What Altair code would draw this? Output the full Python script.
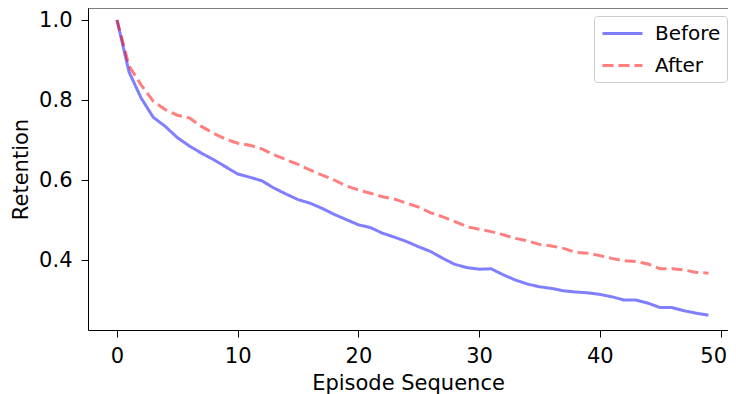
import altair as alt
import pandas as pd

episodes = list(range(50))
before = [1.0, 0.87, 0.805, 0.757, 0.734, 0.706, 0.685, 0.667, 0.651, 0.633,
          0.615, 0.607, 0.598, 0.58, 0.565, 0.551, 0.542, 0.529, 0.514, 0.501,
          0.488, 0.481, 0.467, 0.457, 0.446, 0.433, 0.421, 0.404, 0.389, 0.381,
          0.377, 0.378, 0.363, 0.35, 0.34, 0.333, 0.329, 0.323, 0.32, 0.318,
          0.314, 0.308, 0.3, 0.3, 0.292, 0.281, 0.281, 0.273, 0.267, 0.262]
after = [1.0, 0.885, 0.838, 0.797, 0.776, 0.762, 0.755, 0.734, 0.717, 0.702,
         0.692, 0.687, 0.678, 0.663, 0.651, 0.639, 0.625, 0.612, 0.6, 0.585,
         0.575, 0.567, 0.558, 0.552, 0.542, 0.532, 0.518, 0.508, 0.496, 0.483,
         0.477, 0.471, 0.463, 0.454, 0.448, 0.439, 0.435, 0.429, 0.419, 0.417,
         0.411, 0.404, 0.398, 0.396, 0.39, 0.378, 0.378, 0.375, 0.369, 0.367]
series_names = ["Before", "After"]

rows = []
for name, vals in zip(series_names, [before, after]):
    for e, v in zip(episodes, vals):
        rows.append({"episode": e, "retention": v, "series": name})
df = pd.DataFrame(rows)

FONT = "DejaVu Sans"

legend = alt.Legend(
    title=None, orient="none", legendX=506, legendY=8,
    symbolType="M-2,0H2", symbolSize=400, symbolStrokeWidth=3, symbolOffset=11,
    labelFontSize=20, labelFont=FONT, labelColor="black", labelOffset=21,
    padding=6, rowPadding=10,
    strokeColor="#cccccc", fillColor="white", cornerRadius=3,
)

x_enc = alt.X("episode:Q", title="Episode Sequence",
              scale=alt.Scale(domain=[-2.40, 50.62], nice=False, zero=False),
              axis=alt.Axis(values=[0, 10, 20, 30, 40, 50], grid=False, format="d",
                            tickSize=7, tickColor="black", domainColor="black",
                            labelFontSize=21, labelFont=FONT, labelColor="black", labelPadding=8,
                            labelFlush=10, labelFlushOffset=6,
                            titleFontSize=21, titleFont=FONT, titleColor="black",
                            titleFontWeight="normal", titlePadding=6))
y_enc = alt.Y("retention:Q", title="Retention",
              scale=alt.Scale(domain=[0.225, 1.03], nice=False, zero=False),
              axis=alt.Axis(values=[0.4, 0.6, 0.8, 1.0], grid=False, format=".1f",
                            tickSize=7, tickColor="black", domainColor="black",
                            labelFontSize=21, labelFont=FONT, labelColor="black", labelPadding=9,
                            titleFontSize=21, titleFont=FONT, titleColor="black",
                            titleFontWeight="normal", titlePadding=7))

lines = alt.Chart(df).mark_line(strokeWidth=3, opacity=0.5).encode(
    x=x_enc,
    y=y_enc,
    color=alt.Color("series:N", scale=alt.Scale(domain=series_names, range=["blue", "red"]),
                    legend=legend),
    strokeDash=alt.StrokeDash("series:N",
                              scale=alt.Scale(domain=series_names, range=[[1, 0], [11, 5]]),
                              legend=legend),
)

top_frame = alt.Chart(pd.DataFrame({"frame": [0]})).mark_rule(color="black", strokeWidth=1).encode(
    y=alt.value(0)
)

chart = alt.layer(lines, top_frame).properties(
    width=640, height=322,
    autosize=alt.AutoSizeParams(type="none"),
    padding={"left": 80, "top": 0, "right": 0, "bottom": 64},
).configure_view(strokeWidth=0)

chart.save("out.html", embed_options={"renderer": "svg", "actions": False})
